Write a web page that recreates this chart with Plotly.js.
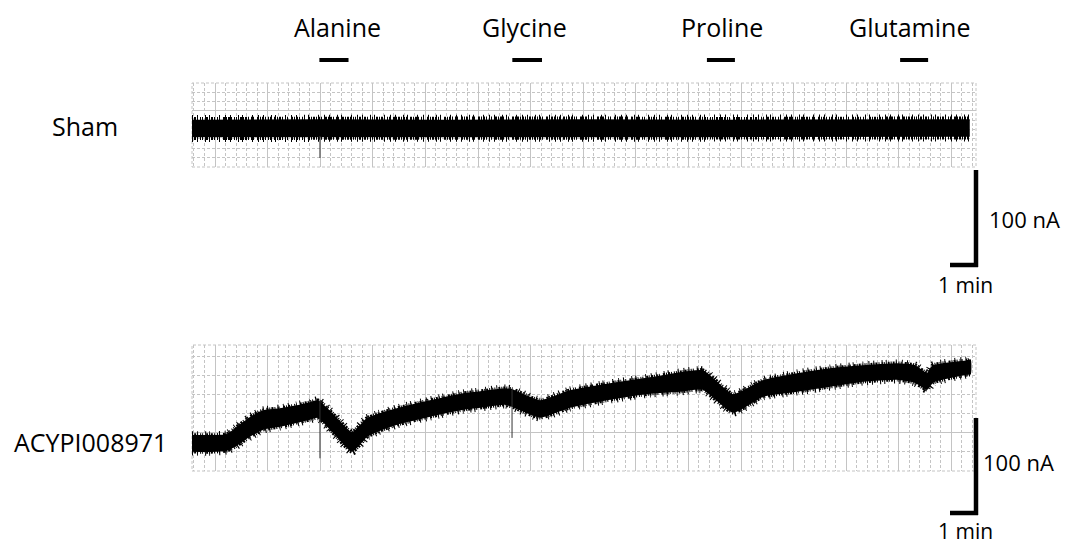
<!DOCTYPE html>
<html><head><meta charset="utf-8">
<script src="https://cdn.plot.ly/plotly-3.0.1.min.js"></script>
<style>html,body{margin:0;padding:0;background:#fff}</style>
</head><body><div id="chart" style="width:1065px;height:548px"></div>
<script>
// ---- data (time in min, current in nA) ----
const rowLabels = ['Sham', 'ACYPI008971'];

const shamTime  = [0, 4.57, 9, 14, 19, 24, 27.75];
const shamUpper = [8, 8.5, 8, 8.5, 8, 8.5, 8.5];
const shamLower = [-8.5, -8.5, -8.5, -8.5, -8.5, -8.5, -8];
const shamSpikeTime = [4.57];
const shamSpikeFrom = [-8];
const shamSpikeTo   = [-30.7];

const acyTime  = [0,0.64,1.25,1.54,2.07,2.54,3.14,3.75,4.21,4.5,5.11,5.71,6.25,6.71,7.32,8.5,9.68,10.29,11.18,11.43,12.43,13.5,14.93,16.36,17.43,18.25,19.32,20.39,21.61,22.79,23.96,25.18,25.82,26.25,26.46,27.68,27.79];
const acyUpper = [7.5,7.5,8.3,14.5,25.8,33.0,35.1,38.2,41.3,43.3,26.8,10.3,24.8,29.9,35.1,43.3,50.5,52.6,55.7,54.7,43.3,53.6,60.9,67.0,72.2,74.3,49.5,63.9,71.2,76.3,79.4,81.5,79.4,71.2,79.4,84.6,85.6];
const acyLower = [-8.3,-8.5,-7.2,-3.1,7.2,14.4,17.5,21.6,24.7,26.8,9.2,-8.3,7.2,13.4,19.6,27.8,35.0,37.1,40.2,38.1,26.8,37.1,45.3,51.5,53.6,55.6,31.9,48.4,53.6,58.7,63.9,65.9,62.9,55.6,62.9,71.1,71.1];
const acySpikeTime = [4.57, 11.43];
const acySpikeFrom = [44, 55];
const acySpikeTo   = [-15.8, 5.2];

const stimNames = ['Alanine', 'Glycine', 'Proline', 'Glutamine'];
const stimStart = [4.55, 11.44, 18.39, 25.29];
const stimEnd   = [5.59, 12.50, 19.39, 26.29];
const stimLabelTime = [5.21, 11.875, 18.93, 25.64];

const scaleCurrent = 100;   // nA
const scaleTime = 1;        // min
const scaleCurrentLabel = '100 nA';
const scaleTimeLabel = '1 min';

// ---- layout geometry ----
const W = 1065, H = 548;
const M = {l:192, r:89, t:83, b:77};
const plotW = W - M.l - M.r, plotH = H - M.t - M.b;
const px = x => (x - M.l) / plotW;
const py = y => (H - M.b - y) / plotH;

const xRange = [0, 28];
const y1Dom = [py(167), 1], y1Range = [-40, 46.6];
const y2Dom = [0, py(345)], y2Range = [-28.9, 101.0];
const pxPerMin = plotW / (xRange[1] - xRange[0]);
const pxPerNA1 = (y1Dom[1]-y1Dom[0]) * plotH / (y1Range[1]-y1Range[0]);
const pxPerNA2 = (y2Dom[1]-y2Dom[0]) * plotH / (y2Range[1]-y2Range[0]);

function band(t, up, lo, yaxis, shape) {
  return {
    x: t.concat(t.slice().reverse()),
    y: up.concat(lo.slice().reverse()),
    type: 'scatter', mode: 'lines', fill: 'toself',
    fillcolor: '#000', line: {color: '#000', width: 1.5, shape: shape, smoothing: 0.5},
    yaxis: yaxis, hoverinfo: 'skip', showlegend: false
  };
}
// noisy-looking edge: irregular dash pattern drawn along the read envelope
function fuzz(t, edge, yaxis, width, dashPat, shape) {
  return {x: t, y: edge, type: 'scatter', mode: 'lines',
    line: {color: '#000', width: width, dash: dashPat, shape: shape, smoothing: 0.5},
    yaxis: yaxis, hoverinfo: 'skip', showlegend: false};
}
function spikes(t, a, b, yaxis) {
  const xs = [], ys = [];
  t.forEach((v, i) => { xs.push(v, v, null); ys.push(a[i], b[i], null); });
  return {x: xs, y: ys, type: 'scatter', mode: 'lines', line: {color: '#333', width: 1},
          yaxis: yaxis, hoverinfo: 'skip', showlegend: false};
}

const dashA = '1px,1px,2px,1px,1px,2px,1px,1px,1px,3px,2px,1px';
const dashB = '1px,4px,1px,7px,1px,3px,1px,9px,1px,5px';

const traces = [
  band(shamTime, shamUpper, shamLower, 'y', 'linear'),
  fuzz(shamTime, shamUpper, 'y', 7, dashA, 'linear'),
  fuzz(shamTime, shamLower, 'y', 7, dashA, 'linear'),
  fuzz(shamTime, shamUpper, 'y', 11, dashB, 'linear'),
  fuzz(shamTime, shamLower, 'y', 11, dashB, 'linear'),
  spikes(shamSpikeTime, shamSpikeFrom, shamSpikeTo, 'y'),
  band(acyTime, acyUpper, acyLower, 'y2', 'spline'),
  fuzz(acyTime, acyUpper, 'y2', 5, dashA, 'spline'),
  fuzz(acyTime, acyLower, 'y2', 5, dashA, 'spline'),
  fuzz(acyTime, acyUpper, 'y2', 9, dashB, 'spline'),
  fuzz(acyTime, acyLower, 'y2', 9, dashB, 'spline'),
  spikes(acySpikeTime, acySpikeFrom, acySpikeTo, 'y2')
];

const majorX = 0.8214, dX = 1.8786;
const gridMajor = '#c4c4c4', gridMinor = '#c4c4c4', dash = '3px,2px';
const common = {showticklabels: false, ticks: '', zeroline: false, showline: false, fixedrange: true,
                showgrid: true, gridcolor: gridMajor, gridwidth: 1};

const layout = {
  width: W, height: H, margin: M, paper_bgcolor: '#fff', plot_bgcolor: '#fff',
  showlegend: false, font: {family: 'Open Sans, sans-serif', color: '#000'},
  xaxis: Object.assign({}, common, {range: xRange, anchor: 'y2', tick0: majorX, dtick: dX,
          minor: {tick0: majorX, dtick: dX/5, showgrid: true, gridcolor: gridMinor, griddash: dash, gridwidth: 1}}),
  yaxis: Object.assign({}, common, {domain: y1Dom, range: y1Range, tick0: 17.74, dtick: 1000,
          minor: {tick0: 17.74, dtick: 9.62, showgrid: true, gridcolor: gridMinor, griddash: dash, gridwidth: 1}}),
  yaxis2: Object.assign({}, common, {domain: y2Dom, range: y2Range, tick0: 10.3, dtick: 1000,
          minor: {tick0: 10.3, dtick: 19.59, showgrid: true, gridcolor: gridMinor, griddash: dash, gridwidth: 1}}),
  shapes: [], annotations: []
};

// panel borders
['y', 'y2'].forEach(ya => layout.shapes.push({type: 'rect', xref: 'x domain', yref: ya + ' domain',
  x0: 0, x1: 1, y0: 0, y1: 1, line: {color: gridMinor, width: 1, dash: dash}, layer: 'below'}));

// stimulus bars and labels
stimNames.forEach((n, i) => {
  layout.shapes.push({type: 'line', xref: 'x', yref: 'paper', x0: stimStart[i], x1: stimEnd[i],
    y0: py(60), y1: py(60), line: {color: '#000', width: 4}});
  layout.annotations.push({text: n, xref: 'x', yref: 'paper', x: stimLabelTime[i], y: py(27),
    xanchor: 'center', yanchor: 'middle', showarrow: false, font: {size: 25}});
});

// row labels
layout.annotations.push({text: rowLabels[0], xref: 'paper', yref: 'paper', x: px(84.5), y: py(126),
  xanchor: 'center', yanchor: 'middle', showarrow: false, font: {size: 25}});
layout.annotations.push({text: rowLabels[1], xref: 'paper', yref: 'paper', x: px(90), y: py(442),
  xanchor: 'center', yanchor: 'middle', showarrow: false, font: {size: 25}});

// scale bars
function scaleBar(bottomPx, pxPerNA, labelY, minY, labelX, minAnchor) {
  const vx = 976, right = 978;
  const hy = bottomPx - 2;
  layout.shapes.push({type: 'line', xref: 'paper', yref: 'paper', x0: px(vx), x1: px(vx),
    y0: py(bottomPx), y1: py(bottomPx - scaleCurrent * pxPerNA), line: {color: '#000', width: 4.5}});
  layout.shapes.push({type: 'line', xref: 'paper', yref: 'paper', x0: px(right - scaleTime * pxPerMin), x1: px(right),
    y0: py(hy), y1: py(hy), line: {color: '#000', width: 4.5}});
  layout.annotations.push({text: scaleCurrentLabel, xref: 'paper', yref: 'paper', x: px(labelX), y: py(labelY),
    xanchor: 'left', yanchor: 'middle', showarrow: false, font: {size: 22}});
  layout.annotations.push({text: scaleTimeLabel, xref: 'paper', yref: 'paper', x: px(965), y: py(minY),
    xanchor: 'center', yanchor: minAnchor, showarrow: false, font: {size: 21}});
}
scaleBar(267, pxPerNA1, 219, 285, 987, 'middle');
scaleBar(515, pxPerNA2, 462, 547, 981, 'bottom');

Plotly.newPlot('chart', traces, layout, {staticPlot: true, displayModeBar: false});
</script></body></html>
